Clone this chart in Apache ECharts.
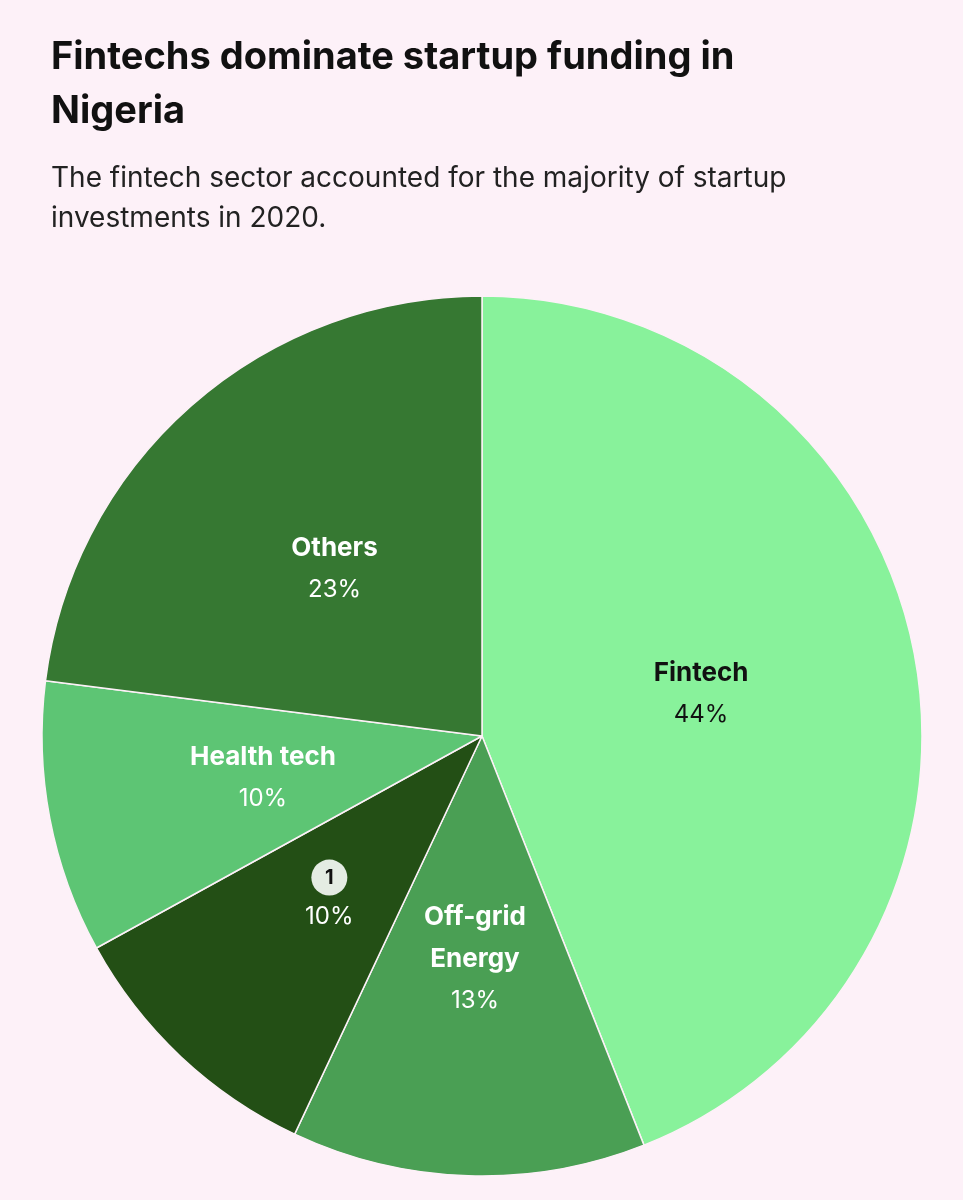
<!DOCTYPE html>
<html><head><meta charset="utf-8">
<script src="https://cdn.jsdelivr.net/npm/echarts@6/dist/echarts.min.js"></script>
<style>html,body{margin:0;background:#fdf1f8;}#c{width:963px;height:1200px;}</style>
</head><body><div id="c"></div>
<script>
const categories = ['Fintech','Off-grid\nEnergy','1','Health tech','Others'];
const values = [44,13,10,10,23];
const colors = ['#88f29b','#4a9f54','#234f15','#5dc574','#367832'];
const labelColors = ['#111','#fff','#fff','#fff','#fff'];
const chart = echarts.init(document.getElementById('c'));
chart.setOption({
  backgroundColor:'#fdf1f8',
  title:{
    text:'Fintechs dominate startup funding in\nNigeria',
    subtext:'The fintech sector accounted for the majority of startup\ninvestments in 2020.',
    left:46, top:26, itemGap:20,
    textStyle:{fontFamily:'Inter',fontSize:38,fontWeight:'bold',color:'#111',lineHeight:54},
    subtextStyle:{fontFamily:'Inter',fontSize:28,color:'#222',lineHeight:40}
  },
  series:[{
    type:'pie', center:[482,736], radius:[0,440], startAngle:90, clockwise:true,
    animation:false,
    itemStyle:{borderColor:'#fdf1f8',borderWidth:1.5},
    label:{position:'inside', fontFamily:'Inter', fontSize:26, lineHeight:44,
      formatter:p=> (p.name==='1' ? '{b|1}' : '{n|'+p.name.split('\n').join('}\n{n|')+'}')+'\n{v|'+p.value+'%}',
      rich:{
        n:{fontFamily:'Inter',fontSize:26,fontWeight:'bold',lineHeight:42},
        v:{fontFamily:'Inter',fontSize:24,lineHeight:42},
        b:{fontFamily:'Inter',fontSize:20,fontWeight:'bold',color:'#111',backgroundColor:'#e4ece3',borderRadius:18,width:36,height:36,align:'center',lineHeight:36}
      }
    },
    labelLine:{show:false},
    data: categories.map((n,i)=>({name:n,value:values[i],itemStyle:{color:colors[i]},label:{color:labelColors[i]}}))
  }]
});
</script></body></html>
